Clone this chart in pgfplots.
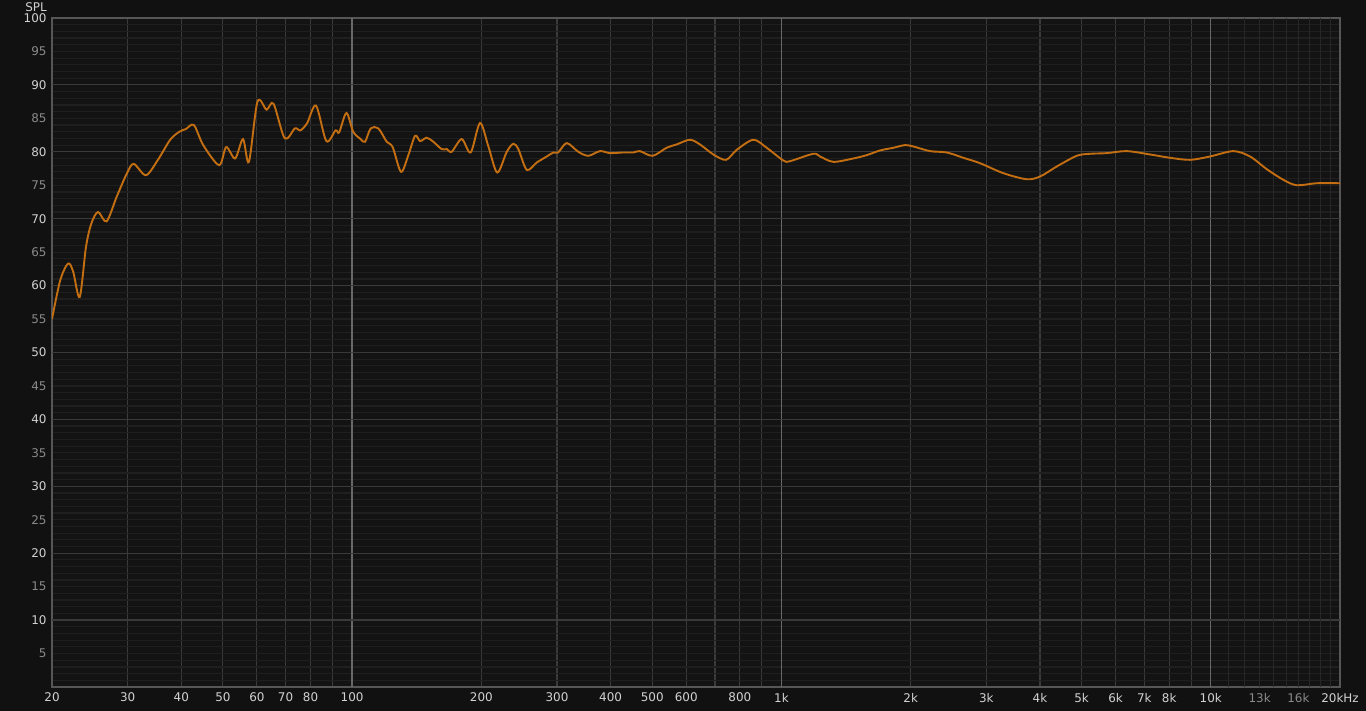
\documentclass[border=0pt]{standalone}
\usepackage{pgfplots}
\pgfplotsset{compat=1.18}
\usepackage{fontspec}
\setmainfont{DejaVu Sans}
\definecolor{bgcol}{HTML}{111111}
\definecolor{plotbg}{HTML}{131313}
\definecolor{gridmin}{HTML}{1F1F1F}
\definecolor{gridmid}{HTML}{3A3A3A}
\definecolor{gridmaj}{HTML}{686868}
\definecolor{gridfine}{HTML}{272727}
\definecolor{framecol}{HTML}{565656}
\definecolor{labA}{HTML}{D2D2D2}
\definecolor{labB}{HTML}{8A8A8A}
\definecolor{curve}{RGB}{196,110,18}
\pgfplotstableread{
f db
20 55.0
20.9 60.8
21.8 63.3
22.4 62.1
23.2 58.3
24.0 65.8
24.7 69.3
25.6 71.0
26.8 69.6
28.3 73.3
29.9 76.8
31.0 78.2
33.1 76.5
35.3 78.8
37.7 81.8
39.6 83.0
41.0 83.4
42.8 84.0
45.0 81.0
49.0 78.0
50.9 80.7
53.4 79.0
55.7 81.9
57.5 78.5
60.2 87.5
63.2 86.3
65.6 87.2
69.7 82.0
73.6 83.5
75.8 83.2
78.6 84.3
82.4 86.9
87.1 81.6
91.5 83.2
93.3 82.9
97.0 85.8
100.6 83.0
104.7 81.9
107.2 81.5
110.5 83.5
115.1 83.5
120.4 81.5
124.3 80.7
130 77.0
135.2 79.5
140.2 82.4
144 81.6
149.2 82.1
154.6 81.5
161.7 80.4
166.2 80.4
170.6 80.0
180 81.9
188.9 79.9
198.6 84.3
207.7 80.8
217.8 76.9
229.2 80.0
237.4 81.2
243.9 80.4
255.2 77.3
269.2 78.4
284 79.3
294.4 79.9
302 79.9
316.2 81.3
336.4 80.0
355 79.4
378 80.1
398.8 79.8
428 79.9
452 79.9
468 80.1
501 79.4
540 80.6
570 81.1
612 81.8
646 81.1
694 79.6
743 78.8
787 80.3
860 81.8
924 80.6
1010 78.7
1047 78.6
1186 79.7
1230 79.3
1321 78.5
1470 79.0
1580 79.5
1697 80.2
1822 80.6
1940 81.0
2028 80.8
2218 80.1
2427 79.9
2653 79.1
2900 78.3
3288 76.8
3724 75.9
4002 76.3
4377 77.8
4873 79.4
5234 79.7
5723 79.8
6372 80.1
7220 79.6
8039 79.1
8949 78.8
9964 79.3
11288 80.1
12344 79.3
13504 77.4
14768 75.8
15860 75.0
17654 75.3
20000 75.3
}\spl
\begin{document}
\begin{tikzpicture}
\fill[bgcol] (0,0) rectangle (1366bp,711bp);
\useasboundingbox (0,0) rectangle (1366bp,711bp);
\begin{axis}[
  at={(52bp,24bp)}, anchor=south west,
  scale only axis, width=1288bp, height=669bp,
  xmode=log, log basis x=10,
  xmin=20, xmax=20000, ymin=0, ymax=100,
  axis background/.style={fill=plotbg},
  axis line style={draw=framecol, line width=1.2bp},
  font=\fontsize{12}{14}\selectfont,
  major tick length=0pt, minor tick length=0pt,
  tick style={draw=none},
  xtick={20,30,40,50,60,70,80,100,200,300,400,500,600,800,1000,2000,3000,4000,5000,6000,7000,8000,10000,13000,16000,20000},
  xticklabels={20,30,40,50,60,70,80,100,200,300,400,500,600,800,1k,2k,3k,4k,5k,6k,7k,8k,10k,\textcolor{labB}{13k},\textcolor{labB}{16k},20kHz},
  xticklabel style={text=labA, yshift=-2.5bp},
  minor xtick={30,40,50,60,70,80,90,200,300,400,500,600,700,800,900,2000,3000,4000,5000,6000,7000,8000,9000},
  ytick={5,10,...,100},
  yticklabels={\textcolor{labB}{5},10,\textcolor{labB}{15},20,\textcolor{labB}{25},30,\textcolor{labB}{35},40,\textcolor{labB}{45},50,\textcolor{labB}{55},60,\textcolor{labB}{65},70,\textcolor{labB}{75},80,\textcolor{labB}{85},90,\textcolor{labB}{95},100},
  yticklabel style={text=labA, xshift=-2bp},
  minor ytick={1,2,...,99},
  xmajorgrids=false, ymajorgrids=false,
  xminorgrids=true, yminorgrids=true,
  minor x grid style={draw=gridmid, line width=1.2bp},
  minor y grid style={draw=gridmin, line width=1.2bp},
  extra x ticks={100,1000,10000},
  extra x tick labels={},
  extra x tick style={grid=major, major grid style={draw=gridmaj, line width=1.4bp}},
  extra y ticks={10,20,...,90},
  extra y tick labels={},
  extra y tick style={grid=major, major grid style={draw=gridmid, line width=1.2bp}},
]
\pgfplotsinvokeforeach{11000,12000,13000,14000,15000,16000,17000,18000,19000}{
  \draw[gridfine, line width=1.2bp] (axis cs:#1,0) -- (axis cs:#1,100);
}
\addplot[curve, line width=1.9bp, smooth, tension=0.5] table[x=f, y=db] {\spl};
\end{axis}
\node[anchor=east, text=labA, font=\fontsize{12}{14}\selectfont, inner sep=0pt] at (47bp,704bp) {SPL};
\end{tikzpicture}
\end{document}
